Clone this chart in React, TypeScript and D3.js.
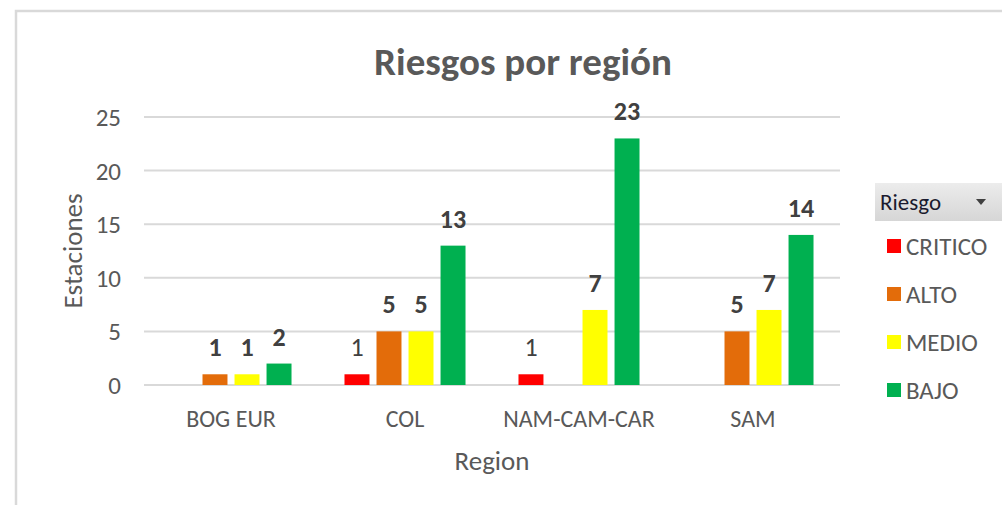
import React from 'react';
import * as d3 from 'd3';

const categories = ['BOG EUR', 'COL', 'NAM-CAM-CAR', 'SAM'];
const seriesNames = ['CRITICO', 'ALTO', 'MEDIO', 'BAJO'];
const critico = [null, 1, 1, null];
const alto = [1, 5, null, 5];
const medio = [1, 5, 7, 7];
const bajo = [2, 13, 23, 14];
const yTicks = [0, 5, 10, 15, 20, 25];

const seriesValues = [critico, alto, medio, bajo];
const colors = ['#FF0000', '#E36C0A', '#FFFF00', '#00B050'];
const FONT = 'Carlito, Calibri, Lato, sans-serif';

const W = 1002;
const H = 505;
const plot = { left: 144, right: 840, top: 117, bottom: 385 };

const App = () => {
  const x0 = d3
    .scaleBand<string>()
    .domain(categories)
    .range([plot.left, plot.right])
    .paddingInner(0.264)
    .paddingOuter(0.132);

  const x1 = d3
    .scaleBand<string>()
    .domain(seriesNames)
    .range([0, x0.bandwidth()])
    .paddingInner(0.22)
    .paddingOuter(0.11);

  const y = d3.scaleLinear().domain([0, 25]).range([plot.bottom, plot.top]);

  const bars = [];
  seriesValues.forEach((vals, si) => {
    vals.forEach((v, ci) => {
      if (v == null) return;
      bars.push({ si, ci, v });
    });
  });

  return (
    <svg width={W} height={H} style={{ position: 'absolute', left: 0, top: 0, background: '#fff' }}>
      <rect x={0} y={0} width={W} height={H} fill="#fff" />
      <rect x={16} y={11} width={W} height={H} fill="none" stroke="#d9d9d9" strokeWidth={2.5} />

      <text x={523} y={75} textAnchor="middle" fontFamily={FONT} fontSize={39} fontWeight="bold" fill="#595959">
        Riesgos por región
      </text>

      {yTicks.map(t => (
        <g key={t}>
          <line x1={plot.left} x2={plot.right} y1={y(t)} y2={y(t)} stroke="#d9d9d9" strokeWidth={2} />
          <text x={121} y={y(t) + 9} textAnchor="end" fontFamily={FONT} fontSize={25} fill="#595959">
            {t}
          </text>
        </g>
      ))}

      <text
        transform={`translate(82,${(plot.top + plot.bottom) / 2}) rotate(-90)`}
        textAnchor="middle"
        fontFamily={FONT}
        fontSize={27}
        fill="#595959"
      >
        Estaciones
      </text>

      {bars.map(({ si, ci, v }) => {
        const bx = x0(categories[ci]) + x1(seriesNames[si]);
        const by = y(v);
        return (
          <g key={`${si}-${ci}`}>
            <rect x={bx} y={by} width={x1.bandwidth()} height={plot.bottom - by} fill={colors[si]} />
            <text
              x={bx + x1.bandwidth() / 2}
              y={by - 18}
              textAnchor="middle"
              fontFamily={FONT}
              fontSize={26}
              fontWeight={si === 0 ? 'normal' : 'bold'}
              fill="#404040"
            >
              {v}
            </text>
          </g>
        );
      })}

      {categories.map(c => (
        <text key={c} x={x0(c) + x0.bandwidth() / 2} y={427} textAnchor="middle" fontFamily={FONT} fontSize={24} fill="#595959">
          {c}
        </text>
      ))}

      <text x={492} y={470} textAnchor="middle" fontFamily={FONT} fontSize={27} fill="#595959">
        Region
      </text>

      <defs>
        <linearGradient id="btn" x1="0" y1="0" x2="0" y2="1">
          <stop offset="0" stopColor="#ececec" />
          <stop offset="1" stopColor="#d6d6d6" />
        </linearGradient>
      </defs>
      <rect x={875} y={183} width={W - 875} height={38} fill="url(#btn)" />
      <text x={880} y={210} fontFamily={FONT} fontSize={23} fill="#1a1a2e">
        Riesgo
      </text>
      <path d="M976,199 L986,199 L981,205 Z" fill="#404040" />

      {seriesNames.map((s, i) => (
        <g key={s} transform={`translate(887,${246 + i * 48})`}>
          <rect x={0} y={-7} width={14} height={14} fill={colors[i]} />
          <text x={19} y={9} fontFamily={FONT} fontSize={25} fill="#595959">
            {s}
          </text>
        </g>
      ))}
    </svg>
  );
};

export default App;
